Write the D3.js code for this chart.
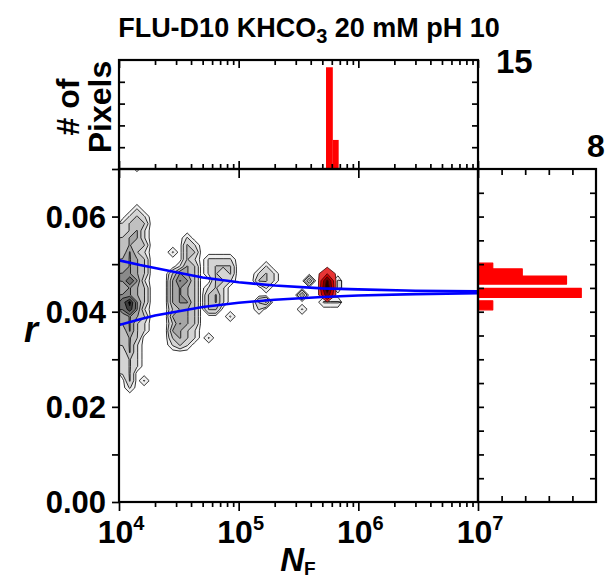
<!DOCTYPE html>
<html><head><meta charset="utf-8">
<script src="https://cdn.jsdelivr.net/npm/d3@7"></script>
<style>
html,body{margin:0;padding:0;background:#fff;}
svg{display:block;font-family:"Liberation Sans",Arial,sans-serif;font-weight:bold;}
</style></head><body>
<svg id="chart" width="608" height="583"></svg>
<script>
// ---------- data ----------
const xMajorTicks = [1e4, 1e5, 1e6, 1e7];
const xMajorExponents = ["4", "5", "6", "7"];
const yTickValues = [0, 0.02, 0.04, 0.06];
const yTickLabels = ["0.00", "0.02", "0.04", "0.06"];
const topHistMax = 15, sideHistMax = 8;

// photon-number histogram of the selected (red) pixels
const topHistEdges = [5.37e5, 6.12e5, 6.85e5];
const topHistCounts = [14, 4];

// anisotropy histogram of the selected (red) pixels
const sideHistLo = [0.0404, 0.0430, 0.0458, 0.0475, 0.0490];
const sideHistHi = [0.0423, 0.0449, 0.0475, 0.0490, 0.0502];
const sideHistCounts = [1, 7, 6, 3, 1];

// expected spread r0 +/- shot noise
const fitN     = [1e4, 1.5e4, 2e4, 3e4, 5e4, 1e5, 2e5, 5e5, 1e6, 3e6, 1e7];
const fitUpper = [0.0508, 0.0498, 0.0492, 0.0483, 0.0472, 0.0462, 0.0455, 0.0449, 0.0447, 0.0444, 0.0443];
const fitLower = [0.0372, 0.0384, 0.0392, 0.0400, 0.0410, 0.0419, 0.0425, 0.0431, 0.0434, 0.0437, 0.0439];

// 2D pixel-count map (all pixels): columns log10(N_F) = 4.03 + 0.06*i, rows r = 0.0705 - 0.0015*j
const grayLogN0 = 4.03, grayDLogN = 0.06, grayR0 = 0.0705, grayDR = 0.0015;
const grayGrid = [
  "..1............................",
  "...............................",
  "...............................",
  "...............................",
  "...............................",
  "...............................",
  "..1............................",
  ".121...........................",
  "1222...........................",
  "1231...........................",
  "2331.....1.....................",
  "2322.....21....................",
  "2421...1.22....................",
  "3432.....21.1111...............",
  "3432....132.1222....1..........",
  "4432...2432.1212...121.........",
  "4641...3542..221...221....3...1",
  "3432...3432.121.....1.........1",
  "4432...3432.231..........3.....",
  "6942...3442.231....23.......111",
  "5841...2332.22.....1.....1.....",
  "3432...3332....1...............",
  "3421...2432....................",
  "2421...3321....................",
  "232....2321.1..................",
  "231....121.....................",
  "131............................",
  "121............................",
  "121............................",
  "12.............................",
  ".2.1...........................",
  ".1.............................",
  "..............................."
];
const grayLevels = [0.3, 0.9, 1.9, 2.9, 3.9, 4.9, 6.9, 8.5];
const grayFills = ["#eeeeee", "#d4d4d4", "#c0c0c0", "#a6a6a6", "#8a8a8a", "#6a6a6a", "#3c3c3c", "#000000"];

// 2D pixel-count map (selected pixels)
const redLogN0 = 5.665, redDLogN = 0.075, redR0 = 0.0495, redDR = 0.0015;
const redGrid = [
  "...",
  ".3.",
  ".a.",
  ".c.",
  ".8.",
  "..."
];
const redLevels = [0.3, 3, 6, 9];
const redFills = ["#e83434", "#cc0000", "#7a0000", "#1e0000"];

// ---------- scales ----------
const svg = d3.select("#chart");
const x = d3.scaleLog().domain([1e4, 1e7]).range([119, 478]);
const y = d3.scaleLinear().domain([0, 0.07]).range([502, 169]);
const yTop = d3.scaleLinear().domain([0, topHistMax]).range([169, 60]);
const xSide = d3.scaleLinear().domain([0, sideHistMax]).range([478, 596]);

svg.append("defs").append("clipPath").attr("id", "plotClip")
  .append("rect").attr("x", 119).attr("y", 169).attr("width", 359).attr("height", 333);

// ---------- contour maps ----------
function parseGrid(rows) {
  const ny = rows.length, nx = d3.max(rows, r => r.length);
  const vals = new Array(nx * ny).fill(0);
  rows.forEach((row, j) => {
    for (let i = 0; i < row.length; i++) {
      const c = row[i];
      vals[j * nx + i] = c === "." ? 0 : parseInt(c, 36);
    }
  });
  return { nx, ny, vals };
}

function drawContours(g, rows, logN0, dLogN, r0, dr, levels, fills, stroke) {
  const { nx, ny, vals } = parseGrid(rows);
  const proj = d3.geoTransform({
    point(px, py) {
      const lx = logN0 + (px - 0.5) * dLogN;
      const rv = r0 - (py - 0.5) * dr;
      this.stream.point(x(Math.pow(10, lx)), y(rv));
    }
  });
  const path = d3.geoPath(proj);
  const bands = d3.contours().size([nx, ny]).thresholds(levels)(vals);
  g.selectAll(null).data(bands).join("path")
    .attr("d", path)
    .attr("fill", (d, i) => fills[i])
    .attr("stroke", stroke)
    .attr("stroke-width", 0.8)
    .attr("stroke-linejoin", "round");
}

const plot = svg.append("g").attr("clip-path", "url(#plotClip)");
drawContours(plot.append("g"), grayGrid, grayLogN0, grayDLogN, grayR0, grayDR, grayLevels, grayFills, "#000");
drawContours(plot.append("g"), redGrid, redLogN0, redDLogN, redR0, redDR, redLevels, redFills, "#3a0000");

// ---------- shot-noise limits ----------
const line = d3.line().x((d, i) => x(fitN[i])).y(d => y(d));
[fitUpper, fitLower].forEach(s => {
  plot.append("path").datum(s).attr("d", line)
    .attr("fill", "none").attr("stroke", "#0000ff").attr("stroke-width", 2.6);
});

// ---------- histograms ----------
svg.append("g").selectAll("rect").data(topHistCounts).join("rect")
  .attr("x", (d, i) => x(topHistEdges[i]))
  .attr("width", (d, i) => x(topHistEdges[i + 1]) - x(topHistEdges[i]))
  .attr("y", d => yTop(d))
  .attr("height", d => yTop(0) - yTop(d))
  .attr("fill", "#ff0000");

svg.append("g").selectAll("rect").data(sideHistCounts).join("rect")
  .attr("x", xSide(0))
  .attr("y", (d, i) => y(sideHistHi[i]))
  .attr("width", d => xSide(d) - xSide(0))
  .attr("height", (d, i) => y(sideHistLo[i]) - y(sideHistHi[i]))
  .attr("fill", "#ff0000").attr("stroke", "#ff0000").attr("stroke-width", 1.2)
  .attr("stroke-linejoin", "round");

// ---------- ticks ----------
const xMinor = [];
[1e4, 1e5, 1e6].forEach(dec => { for (let m = 2; m <= 9; m++) xMinor.push(m * dec); });
const yMinor = d3.range(0, 0.0701, 0.01);
const sideR = d3.range(1, 14).map(k => k * 0.005);
const topCounts = [3, 6, 9, 12];
const sideCounts = [1.6, 3.2, 4.8, 6.4];

function tickGroup(tx, ty, axis) {
  const g = svg.append("g").attr("transform", `translate(${tx},${ty})`).call(axis);
  g.select(".domain").remove();
  g.selectAll(".tick text").remove();
  g.selectAll(".tick line").attr("stroke", "#000").attr("stroke-width", 1.7);
  return g;
}
// main bottom axis (outward)
tickGroup(0, 502, d3.axisBottom(x).tickValues(xMinor).tickSize(5));
tickGroup(0, 502, d3.axisBottom(x).tickValues(xMajorTicks).tickSize(9));
// shared border between main plot and top histogram
tickGroup(0, 169, d3.axisTop(x).tickValues(xMinor).tickSize(5));
tickGroup(0, 169, d3.axisTop(x).tickValues(xMajorTicks).tickSize(8));
tickGroup(0, 169, d3.axisBottom(x).tickValues(xMajorTicks).tickSize(9));
// top border of top histogram (inward)
tickGroup(0, 60, d3.axisBottom(x).tickValues(xMinor).tickSize(5));
tickGroup(0, 60, d3.axisBottom(x).tickValues(xMajorTicks).tickSize(8));
// main left axis (outward)
tickGroup(119, 0, d3.axisLeft(y).tickValues(yMinor).tickSize(7));
// top histogram count axes (inward)
tickGroup(119, 0, d3.axisRight(yTop).tickValues(topCounts).tickSize(6));
tickGroup(478, 0, d3.axisLeft(yTop).tickValues(topCounts).tickSize(6));
// side histogram axes (inward)
tickGroup(478, 0, d3.axisRight(y).tickValues(sideR).tickSize(6));
tickGroup(596, 0, d3.axisLeft(y).tickValues(sideR).tickSize(6));
tickGroup(0, 169, d3.axisBottom(xSide).tickValues(sideCounts).tickSize(6));
tickGroup(0, 502, d3.axisTop(xSide).tickValues(sideCounts).tickSize(6));

// ---------- frames ----------
const frame = svg.append("g").attr("fill", "none").attr("stroke", "#000").attr("stroke-width", 2.2);
frame.append("rect").attr("x", x(1e4)).attr("y", yTop(topHistMax))
  .attr("width", x(1e7) - x(1e4)).attr("height", yTop(0) - yTop(topHistMax));
frame.append("rect").attr("x", x(1e4)).attr("y", y(0.07))
  .attr("width", x(1e7) - x(1e4)).attr("height", y(0) - y(0.07));
frame.append("rect").attr("x", xSide(0)).attr("y", y(0.07))
  .attr("width", xSide(sideHistMax) - xSide(0)).attr("height", y(0) - y(0.07));

// ---------- labels ----------
const title = svg.append("text").attr("x", 309).attr("y", 37)
  .attr("text-anchor", "middle").attr("font-size", 27);
title.append("tspan").text("FLU-D10 KHCO");
title.append("tspan").attr("font-size", 20).attr("dy", 6).text("3");
title.append("tspan").attr("dy", -6).text(" 20 mM pH 10");

svg.append("text").attr("x", 496).attr("y", 73).attr("font-size", 33).text(String(topHistMax));
svg.append("text").attr("x", 587).attr("y", 157).attr("font-size", 32).text(String(sideHistMax));

svg.append("text").attr("transform", "translate(79,107) rotate(-90)")
  .attr("text-anchor", "middle").attr("font-size", 32).text("# of");
svg.append("text").attr("transform", "translate(111,107) rotate(-90)")
  .attr("text-anchor", "middle").attr("font-size", 32).text("Pixels");

svg.append("g").selectAll("text").data(yTickValues).join("text")
  .attr("x", 106).attr("y", d => y(d) + 11)
  .attr("text-anchor", "end").attr("font-size", 31)
  .text((d, i) => yTickLabels[i]);

const xl = svg.append("g").selectAll("text").data(xMajorTicks).join("text")
  .attr("x", d => x(d) + 2).attr("y", 543)
  .attr("text-anchor", "middle").attr("font-size", 32);
xl.append("tspan").text("10");
xl.append("tspan").attr("font-size", 20).attr("dy", -13).text((d, i) => xMajorExponents[i]);

const nf = svg.append("text").attr("x", 298).attr("y", 571).attr("text-anchor", "middle");
nf.append("tspan").attr("font-size", 33).attr("font-style", "italic").text("N");
nf.append("tspan").attr("font-size", 19).attr("dy", 4).text("F");

svg.append("text").attr("x", 31).attr("y", 342).attr("text-anchor", "middle")
  .attr("font-size", 36).attr("font-style", "italic").text("r");
</script>
</body></html>
